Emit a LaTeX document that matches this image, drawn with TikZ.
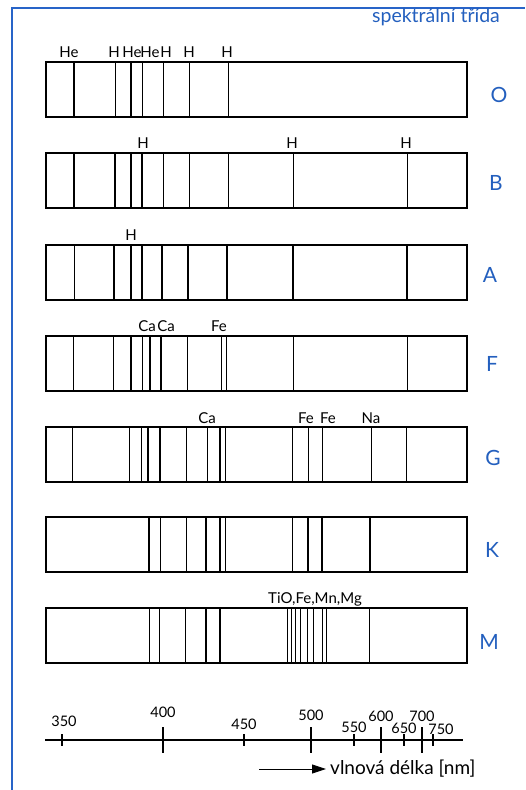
\documentclass[tikz,border=0pt]{standalone}
\usepackage{fontspec}
\setmainfont{Lato}
\usepackage{tikz}
\usetikzlibrary{arrows.meta}
\definecolor{clsblue}{RGB}{35,95,190}
\definecolor{frameblue}{RGB}{40,100,200}

\begin{document}
\begin{tikzpicture}[x=1pt, y=-1pt,
  strip/.style={draw, line width=1.1pt},
  lnthin/.style={line width=0.9pt},
  lnmid/.style={line width=1.6pt},
  lnthick/.style={line width=2.5pt},
  elem/.style={font=\fontsize{15}{17}\selectfont, inner sep=0pt},
  cls/.style={font=\fontsize{21}{23}\selectfont, text=clsblue, inner sep=0pt},
  tickmark/.style={line width=1.3pt},
  num/.style={font=\fontsize{14.5}{16}\selectfont, inner sep=0pt}]
  \useasboundingbox (0,0) rectangle (525,790);

  % Frame and heading
  \draw[frameblue, line width=1.4pt] (12,790) -- (12,8) -- (525,8);
  \node[font=\fontsize{19.5}{22}\selectfont, text=clsblue, inner sep=0pt] (title) at (436,17) {spektrální třída};

  % Spectrum O
  \begin{scope}[shift={(0,62)}]
    \draw[strip] (46,0) rectangle (467,55);
    \foreach \x in {115,142,163,189,228} \draw[lnthin] (\x,0) -- (\x,55);
    \foreach \x in {74,131} \draw[lnthick] (\x,0) -- (\x,55);
    \foreach \x/\e [count=\i] in {69/He,114/H,132/He,150/He,166/H,189/H,227/H}
      \node[elem] (elO\i) at (\x,-10) {\e};
    \node[cls] (clsO) at (499,33) {O};
  \end{scope}

  % Spectrum B
  \begin{scope}[shift={(0,153)}]
    \draw[strip] (46,0) rectangle (467,55);
    \foreach \x in {163,189,228,293,407} \draw[lnthin] (\x,0) -- (\x,55);
    \foreach \x in {74,115,131,142} \draw[lnmid] (\x,0) -- (\x,55);
    \foreach \x/\e [count=\i] in {143/H,292/H,406/H}
      \node[elem] (elB\i) at (\x,-10) {\e};
    \node[cls] (clsB) at (496,30) {B};
  \end{scope}

  % Spectrum A
  \begin{scope}[shift={(0,245)}]
    \draw[strip] (46,0) rectangle (467,55);
    \foreach \x in {74} \draw[lnthin] (\x,0) -- (\x,55);
    \foreach \x in {114,131,142,162,188,227,293,407} \draw[lnmid] (\x,0) -- (\x,55);
    \node[elem] (elA1) at (131,-10) {H};
    \node[cls] (clsA) at (490,30) {A};
  \end{scope}

  % Spectrum F
  \begin{scope}[shift={(0,336)}]
    \draw[strip] (46,0) rectangle (467,55);
    \foreach \x in {73,113,142,187,221,226,293,407} \draw[lnthin] (\x,0) -- (\x,55);
    \foreach \x in {131,150} \draw[lnmid] (\x,0) -- (\x,55);
    \draw[lnthick] (161,0) -- (161,55);
    \foreach \x/\e [count=\i] in {147/Ca,166/Ca,219/Fe}
      \node[elem] (elF\i) at (\x,-10) {\e};
    \node[cls] (clsF) at (492,28) {F};
  \end{scope}

  % Spectrum G
  \begin{scope}[shift={(0,427)}]
    \draw[strip] (46,0) rectangle (467,55);
    \foreach \x in {72,129,141,186,207,225,292,308,322,371,406} \draw[lnthin] (\x,0) -- (\x,55);
    \foreach \x in {160,220} \draw[lnmid] (\x,0) -- (\x,55);
    \draw[lnthick] (148,0) -- (148,55);
    \foreach \x/\e [count=\i] in {207/Ca,306/Fe,328/Fe,371/Na}
      \node[elem] (elG\i) at (\x,-9) {\e};
    \node[cls] (clsG) at (493,31) {G};
  \end{scope}

  % Spectrum K
  \begin{scope}[shift={(0,517)}]
    \draw[strip] (46,0) rectangle (467,55);
    \foreach \x in {160,186,225,292} \draw[lnthin] (\x,0) -- (\x,55);
    \foreach \x in {149,206,308,322,370} \draw[lnmid] (\x,0) -- (\x,55);
    \draw[lnthick] (220,0) -- (220,55);
    \node[cls] (clsK) at (492,33) {K};
  \end{scope}

  % Spectrum M
  \begin{scope}[shift={(0,608)}]
    \draw[strip] (46,0) rectangle (467,55);
    \foreach \x in {149,159,185,287,291,295,300,307,313,322,326,369} \draw[lnthin] (\x,0) -- (\x,55);
    \foreach \x in {206,220} \draw[lnmid] (\x,0) -- (\x,55);
    \node[elem] (elM1) at (315,-9) {TiO,Fe,Mn,Mg};
    \node[cls] (clsM) at (489,34) {M};
  \end{scope}

  % Wavelength axis
  \draw[line width=1.4pt] (45,740) -- (463,740);
  \foreach \x/\lx/\l/\ly in {62/64/350/721, 244/244/450/724, 354/354/550/727, 404/404/650/728, 433/441/750/729} {
    \draw[tickmark] (\x,734) -- (\x,746);
    \node[num] (num\l) at (\lx,\ly) {\l};
  }
  \foreach \x/\l/\ly in {163/400/712, 311/500/715, 381/600/716, 422/700/716} {
    \draw[tickmark] (\x,727) -- (\x,753);
    \node[num] (num\l) at (\x,\ly) {\l};
  }
  \coordinate (arrStart) at (259,769);
  \node[font=\fontsize{19}{21}\selectfont, anchor=west, inner sep=4pt] (wavelen) at (326,769) {vlnová délka [nm]};
  \draw[line width=0.9pt, -{Triangle[length=14pt, width=9pt]}] (arrStart) -- (wavelen.west);
\end{tikzpicture}
\end{document}
